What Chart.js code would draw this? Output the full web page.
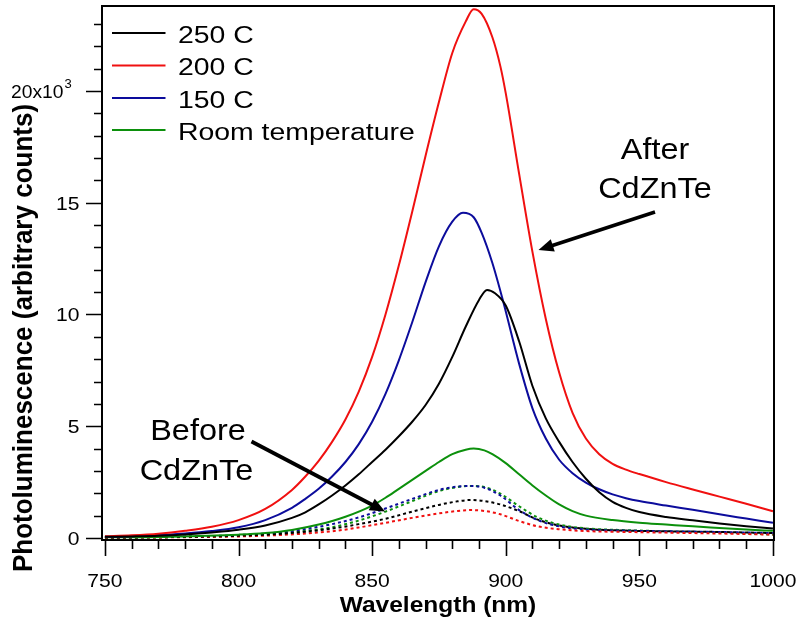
<!DOCTYPE html>
<html>
<head>
<meta charset="utf-8">
<title>Photoluminescence spectra</title>
<script src="https://cdn.jsdelivr.net/npm/chart.js@4/dist/chart.umd.min.js"></script>
<style>
  html, body { margin: 0; padding: 0; background: #ffffff; }
  canvas { display: block; }
</style>
</head>
<body>
<canvas id="pl" width="799" height="621"></canvas>
<script>
// Photoluminescence in thousands of counts versus wavelength (nm).

// After CdZnTe (solid lines)
const nm250 = [750,760,770,780,790,800,810,820,825,830,835,840,845,850,855,860,865,870,875,880,885,890,893,896,900,905,910,915,920,925,930,935,940,945,950,960,970,980,990,1000];
const pl250 = [0.05,0.07,0.1,0.16,0.25,0.37,0.56,0.9,1.15,1.5,1.9,2.35,2.85,3.4,3.95,4.55,5.2,5.95,6.9,8.1,9.45,10.65,11.1,10.95,10.4,8.8,6.8,5.35,4.3,3.4,2.65,2.05,1.62,1.35,1.16,0.94,0.79,0.65,0.53,0.42];

const nm200 = [750,760,770,780,790,800,810,820,825,830,835,840,845,850,855,860,865,870,875,880,885,888,891,895,898,900,905,910,915,920,925,930,935,940,945,950,960,970,980,990,1000];
const pl200 = [0.08,0.12,0.19,0.32,0.5,0.8,1.3,2.15,2.75,3.45,4.3,5.3,6.55,8.1,10.0,12.2,14.6,17.1,19.5,21.7,23.1,23.66,23.45,22.4,21.1,19.9,16.3,12.8,9.8,7.4,5.6,4.45,3.75,3.32,3.06,2.86,2.5,2.17,1.85,1.53,1.2];

const nm150 = [750,760,770,780,790,800,810,820,825,830,835,840,845,850,855,860,865,870,875,880,884,888,891,895,899,905,910,915,920,925,930,935,940,945,950,960,970,980,990,1000];
const pl150 = [0.05,0.08,0.13,0.2,0.31,0.48,0.8,1.35,1.75,2.2,2.75,3.4,4.2,5.2,6.45,7.95,9.65,11.45,13.05,14.15,14.55,14.35,13.65,12.3,10.6,7.8,5.8,4.45,3.5,2.9,2.48,2.18,1.95,1.78,1.65,1.45,1.26,1.06,0.87,0.68];

const nmRT = [750,775,800,810,820,830,840,850,855,860,865,870,875,880,885,888,892,895,900,905,910,915,920,925,930,940,950,960,970,980,990,1000];
const plRT = [0.03,0.06,0.15,0.22,0.36,0.6,0.95,1.45,1.8,2.2,2.6,3.0,3.4,3.75,3.95,4.0,3.92,3.75,3.35,2.85,2.35,1.9,1.5,1.2,1.0,0.8,0.68,0.6,0.52,0.45,0.38,0.32];

// Before CdZnTe (dotted lines)
const nmPre = [750,775,800,815,825,835,845,855,865,875,882,887,892,898,905,912,920,930,945,960,980,1000];
const pre250 = [0.02,0.04,0.1,0.18,0.28,0.42,0.62,0.86,1.18,1.48,1.64,1.7,1.65,1.5,1.2,0.82,0.56,0.41,0.33,0.3,0.27,0.22];
const pre200 = [0.01,0.03,0.07,0.13,0.2,0.3,0.47,0.68,0.9,1.1,1.21,1.25,1.21,1.06,0.76,0.52,0.39,0.31,0.27,0.24,0.2,0.15];
const pre150 = [0.02,0.05,0.13,0.25,0.4,0.62,0.92,1.32,1.75,2.15,2.3,2.33,2.25,1.9,1.25,0.8,0.52,0.38,0.33,0.3,0.27,0.22];
const preRT = [0.02,0.04,0.1,0.2,0.32,0.48,0.78,1.18,1.65,2.1,2.28,2.33,2.28,1.98,1.42,0.92,0.6,0.43,0.35,0.3,0.25,0.15];

const seriesNames = ['250 C', '200 C', '150 C', 'Room temperature'];
const seriesColors = ['#000000', '#f01010', '#0c0c9c', '#0c900c'];

const xMajorTicks = [750, 800, 850, 900, 950, 1000];
const xTickLabels = ['750', '800', '850', '900', '950', '1000'];
const yMajorTicks = [0, 5, 10, 15, 20];
const yTickLabels = ['0', '5', '10', '15', '20'];

const pts = (xs, ys) => xs.map((x, i) => ({ x: x, y: ys[i] }));

function solid(idx, xs, ys) {
  return {
    label: seriesNames[idx],
    data: pts(xs, ys),
    borderColor: seriesColors[idx],
    borderWidth: 2,
    pointRadius: 0,
    fill: false,
    cubicInterpolationMode: 'monotone'
  };
}
function dotted(idx, xs, ys) {
  return {
    label: seriesNames[idx] + ' (before)',
    data: pts(xs, ys),
    borderColor: seriesColors[idx],
    borderWidth: 2,
    borderDash: [3, 3],
    pointRadius: 0,
    fill: false,
    cubicInterpolationMode: 'monotone'
  };
}

const STRETCH = 1.14;
function drawText(ctx, str, x, y, o) {
  ctx.save();
  ctx.translate(x, y);
  ctx.scale(o.stretch || STRETCH, 1);
  if (o.rotate) ctx.rotate(o.rotate);
  ctx.font = o.font;
  ctx.textAlign = o.align || 'left';
  ctx.textBaseline = 'alphabetic';
  ctx.fillStyle = '#000';
  ctx.fillText(str, 0, 0);
  ctx.restore();
}

function drawArrow(ctx, x0, y0, x1, y1, lw, headLen, headHalf) {
  const a = Math.atan2(y1 - y0, x1 - x0);
  const bx = x1 - headLen * Math.cos(a), by = y1 - headLen * Math.sin(a);
  ctx.save();
  ctx.strokeStyle = '#000';
  ctx.fillStyle = '#000';
  ctx.lineWidth = lw;
  ctx.lineCap = 'butt';
  ctx.beginPath();
  ctx.moveTo(x0, y0);
  ctx.lineTo(bx + 2 * Math.cos(a), by + 2 * Math.sin(a));
  ctx.stroke();
  ctx.beginPath();
  ctx.moveTo(x1, y1);
  ctx.lineTo(bx + headHalf * Math.sin(a), by - headHalf * Math.cos(a));
  ctx.lineTo(bx - headHalf * Math.sin(a), by + headHalf * Math.cos(a));
  ctx.closePath();
  ctx.fill();
  ctx.restore();
}

const whiteBg = {
  id: 'whiteBg',
  beforeDraw(chart) {
    const c = chart.ctx;
    c.save();
    c.fillStyle = '#ffffff';
    c.fillRect(0, 0, chart.width, chart.height);
    c.restore();
  }
};

const frameAndText = {
  id: 'frameAndText',
  afterDraw(chart) {
    const ctx = chart.ctx;
    const a = chart.chartArea;
    const xs = chart.scales.x, ys = chart.scales.y;
    ctx.save();
    ctx.strokeStyle = '#000';
    ctx.lineWidth = 2;
    ctx.strokeRect(a.left, a.top, a.right - a.left, a.bottom - a.top);

    // x ticks: major every 50 nm, minor every 10 nm
    ctx.lineWidth = 1.6;
    ctx.beginPath();
    for (let v = 750; v <= 1000; v += 10) {
      const px = Math.round(xs.getPixelForValue(v)) + 0.5;
      const major = v % 50 === 0;
      ctx.moveTo(px, a.bottom);
      ctx.lineTo(px, a.bottom + (major ? 16 : 9));
    }
    // y ticks: major every 5, minor every 1 (thousands)
    for (let v = 0; v <= 23; v += 1) {
      const py = Math.round(ys.getPixelForValue(v)) + 0.5;
      const major = v % 5 === 0;
      ctx.moveTo(a.left, py);
      ctx.lineTo(a.left - (major ? 16 : 8), py);
    }
    ctx.stroke();
    ctx.restore();

    const tickFont = '18.5px "Liberation Sans", Arial, sans-serif';
    xMajorTicks.forEach((v, i) => {
      drawText(ctx, xTickLabels[i], xs.getPixelForValue(v), 587, { font: tickFont, align: 'center' });
    });
    yMajorTicks.forEach((v, i) => {
      const py = ys.getPixelForValue(v);
      if (v === 20) {
        drawText(ctx, yTickLabels[i] + 'x10', 63.5, py + 7, { font: tickFont, align: 'right', stretch: 1.04 });
        drawText(ctx, '3', 64.5, py - 3, { font: '12.5px "Liberation Sans", Arial, sans-serif', align: 'left', stretch: 1.04 });
      } else {
        drawText(ctx, yTickLabels[i], 79.5, py + 6.8, { font: tickFont, align: 'right' });
      }
    });

    // axis titles
    drawText(ctx, 'Wavelength (nm)', (a.left + a.right) / 2, 612,
      { font: 'bold 21.5px "Liberation Sans", Arial, sans-serif', align: 'center' });
    drawText(ctx, 'Photoluminescence (arbitrary counts)', 31.5, 338,
      { font: 'bold 26px "Liberation Sans", Arial, sans-serif', align: 'center', rotate: -Math.PI / 2, stretch: 1.08 });

    // legend
    const legFont = '24.7px "Liberation Sans", Arial, sans-serif';
    const rowY = [33, 65.5, 98, 130];
    seriesNames.forEach((name, i) => {
      ctx.save();
      ctx.strokeStyle = seriesColors[i];
      ctx.lineWidth = 2;
      ctx.beginPath();
      ctx.moveTo(112, rowY[i]);
      ctx.lineTo(165.5, rowY[i]);
      ctx.stroke();
      ctx.restore();
      drawText(ctx, name, 178, rowY[i] + 9.5, { font: legFont, align: 'left', stretch: 1.15 });
    });

    // annotations
    const noteFont = '29.5px "Liberation Sans", Arial, sans-serif';
    drawText(ctx, 'After', 655, 159, { font: noteFont, align: 'center', stretch: 1.1 });
    drawText(ctx, 'CdZnTe', 655, 198, { font: noteFont, align: 'center', stretch: 1.1 });
    drawArrow(ctx, 655, 212, 538.5, 250, 3.5, 15, 6.5);

    drawText(ctx, 'Before', 198, 440, { font: noteFont, align: 'center', stretch: 1.1 });
    drawText(ctx, 'CdZnTe', 196.5, 480, { font: noteFont, align: 'center', stretch: 1.1 });
    drawArrow(ctx, 251.5, 441.5, 385, 511.5, 3.8, 15, 6.5);
  }
};

new Chart(document.getElementById('pl'), {
  type: 'line',
  data: {
    datasets: [
      solid(0, nm250, pl250),
      solid(1, nm200, pl200),
      solid(2, nm150, pl150),
      solid(3, nmRT, plRT),
      dotted(0, nmPre, pre250),
      dotted(1, nmPre, pre200),
      dotted(2, nmPre, pre150),
      dotted(3, nmPre, preRT)
    ]
  },
  options: {
    responsive: false,
    animation: false,
    devicePixelRatio: 1,
    layout: { padding: { top: 6, right: 25, left: 0, bottom: 0 } },
    plugins: { legend: { display: false }, tooltip: { enabled: false }, title: { display: false } },
    scales: {
      x: {
        type: 'linear',
        min: 748.9,
        max: 1000.4,
        ticks: { display: false },
        grid: { display: false },
        border: { display: false },
        afterFit(s) { s.height = 81; }
      },
      y: {
        type: 'linear',
        min: -0.09,
        max: 23.8,
        ticks: { display: false },
        grid: { display: false },
        border: { display: false },
        afterFit(s) { s.width = 102; }
      }
    }
  },
  plugins: [whiteBg, frameAndText]
});
</script>
</body>
</html>
